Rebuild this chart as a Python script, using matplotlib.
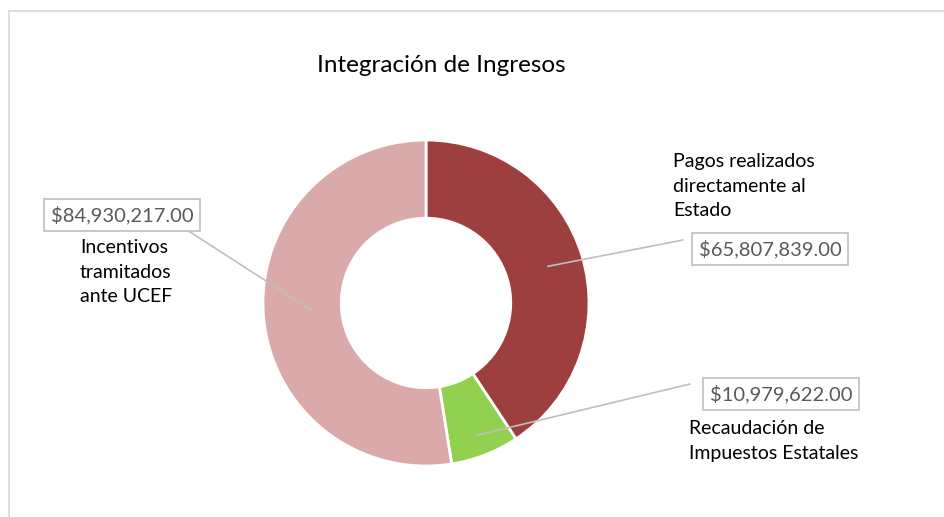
import numpy as np
import matplotlib.pyplot as plt

# datos del gráfico
categorias = ["Pagos realizados\ndirectamente al\nEstado",
              "Recaudación de\nImpuestos Estatales",
              "Incentivos\ntramitados\nante UCEF"]
montos = [65807839.00, 10979622.00, 84930217.00]
colores = ["#9E3F3F", "#92D050", "#DAA9A9"]
titulo = "Integración de Ingresos"

plt.rcParams['font.family'] = ['Lato', 'DejaVu Sans']

W, H = 945, 517
fig = plt.figure(figsize=(W / 100, H / 100), dpi=100)
ax = fig.add_axes([0, 0, 1, 1])

# centro del anillo y escala (pixeles por unidad)
cx, cy, esc = 426, 303, 163


def px(x, y):
    # pixeles (origen arriba-izquierda) -> fraccion de figura
    return (x / W, 1 - y / H)


wedges, _ = ax.pie(montos, colors=colores, startangle=90, counterclock=False,
                   radius=1, center=(0, 0),
                   wedgeprops=dict(width=0.48, edgecolor="white", linewidth=2))
ax.set_xlim(-cx / esc, (W - cx) / esc)
ax.set_ylim(-(H - cy) / esc, cy / esc)
ax.set_aspect("equal")
ax.axis("off")

# marco del area del grafico
fig.add_artist(plt.Line2D([9.5 / W, 1], [1 - 10.5 / H] * 2, transform=fig.transFigure,
                          color="#D9D9D9", lw=1.2))
fig.add_artist(plt.Line2D([9.5 / W] * 2, [0, 1 - 10.5 / H], transform=fig.transFigure,
                          color="#D9D9D9", lw=1.2))

fig.text(*px(441, 66), titulo, ha="center", va="center", fontsize=17.5, color="#000000")

# etiquetas: posicion de la caja de valor, final de la linea guia, posicion del nombre
cajas = [(770, 249), (781, 394), (122, 215)]
fin_linea = [(683, 240), (690, 384), (187, 230)]
nombres = [(673, 186, "left"), (689, 441, "left"), (80, 272, "left")]
radio_ancla = [0.78, 0.87, 0.69]

for w, val, nom, caja, fin, (nx, ny, ha), r in zip(wedges, montos, categorias, cajas,
                                                  fin_linea, nombres, radio_ancla):
    ang = np.deg2rad((w.theta1 + w.theta2) / 2)
    ancla = (r * np.cos(ang), r * np.sin(ang))
    ax.annotate("", xy=ancla, xycoords="data", xytext=px(*fin), textcoords="figure fraction",
                arrowprops=dict(arrowstyle="-", color="#BFBFBF", lw=1.2,
                                shrinkA=0, shrinkB=0))
    fig.text(*px(*caja), f"${val:,.2f}", ha="center", va="center", fontsize=14.5,
             color="#595959",
             bbox=dict(boxstyle="square,pad=0.32", fc="white", ec="#BFBFBF", lw=1.2))
    fig.text(*px(nx, ny), nom, ha=ha, va="center", fontsize=14, color="#000000",
             linespacing=1.55)

fig.savefig("out.png", dpi=100)
